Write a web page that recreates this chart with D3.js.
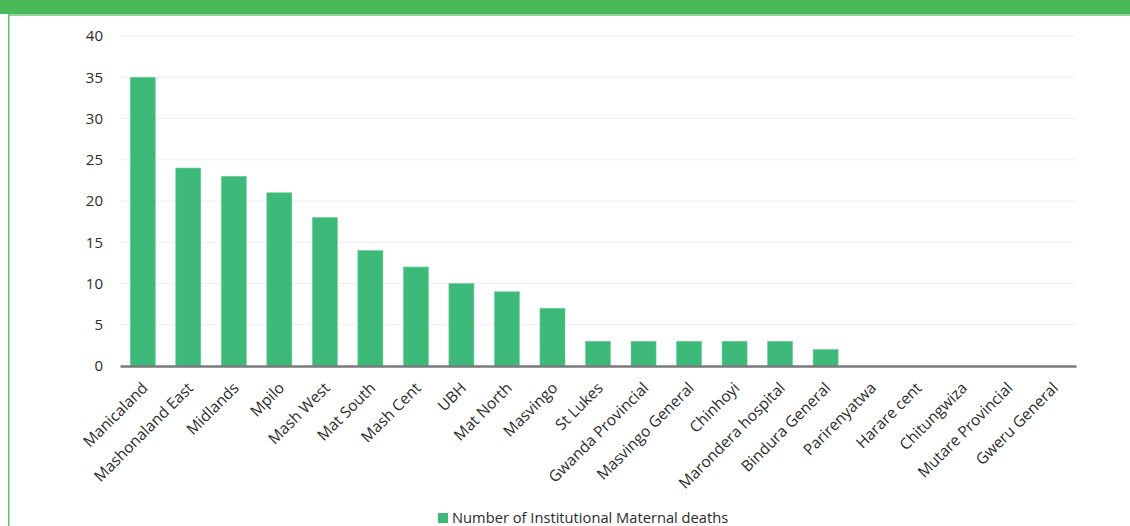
<!DOCTYPE html>
<html>
<head>
<meta charset="utf-8">
<script src="https://cdn.jsdelivr.net/npm/d3@7"></script>
<style>
  body { margin: 0; background: #fff; }
  svg { display: block; font-family: "Open Sans", "DejaVu Sans", sans-serif; }
</style>
</head>
<body>
<div id="chart"></div>
<script>
// data
var categories = ["Manicaland", "Mashonaland East", "Midlands", "Mpilo", "Mash West", "Mat South",
  "Mash Cent", "UBH", "Mat North", "Masvingo", "St Lukes", "Gwanda Provincial", "Masvingo General",
  "Chinhoyi", "Marondera hospital", "Bindura General", "Parirenyatwa", "Harare cent", "Chitungwiza",
  "Mutare Provincial", "Gweru General"];
var deaths = [35, 24, 23, 21, 18, 14, 12, 10, 9, 7, 3, 3, 3, 3, 3, 2, 0, 0, 0, 0, 0];
var yTicks = [0, 5, 10, 15, 20, 25, 30, 35, 40];
var seriesName = "Number of Institutional Maternal deaths";

var W = 1130, H = 526;
var margin = {top: 36, right: 54, bottom: 160, left: 120};
var width = W - margin.left - margin.right,
    height = H - margin.top - margin.bottom;

var svg = d3.select("#chart").append("svg")
    .attr("width", W)
    .attr("height", H);

// frame: green banner on top and green rule on the left
svg.append("rect").attr("x", 0).attr("y", 0).attr("width", W).attr("height", 14).attr("fill", "#4ab95a");
svg.append("rect").attr("x", 8).attr("y", 14).attr("width", W - 8).attr("height", 2).attr("fill", "#8fd39a");
svg.append("rect").attr("x", 8).attr("y", 14).attr("width", 1.5).attr("height", H - 14).attr("fill", "#5cc46a");

var g = svg.append("g")
    .attr("transform", "translate(" + margin.left + "," + margin.top + ")");

var x = d3.scaleBand()
    .domain(categories)
    .range([0, width])
    .paddingInner(0.45)
    .paddingOuter(0.225);

var y = d3.scaleLinear()
    .domain([0, 40])
    .range([height, 0]);

// gridlines
g.append("g")
    .selectAll("line")
    .data(yTicks.slice(1))
    .enter().append("line")
    .attr("x1", 0)
    .attr("x2", width)
    .attr("y1", function(d) { return y(d); })
    .attr("y2", function(d) { return y(d); })
    .attr("stroke", "#efefef")
    .attr("stroke-width", 1);

// y axis labels
var yAxis = g.append("g")
    .call(d3.axisLeft(y).tickValues(yTicks).tickSize(0).tickPadding(17));
yAxis.select(".domain").remove();
yAxis.selectAll("text")
    .attr("font-size", 15)
    .attr("font-family", "'Open Sans', sans-serif")
    .attr("fill", "#2b2b2b");

// bars
g.selectAll(".bar")
    .data(deaths)
    .enter().append("rect")
    .attr("class", "bar")
    .attr("x", function(d, i) { return x(categories[i]); })
    .attr("y", function(d) { return y(d); })
    .attr("width", x.bandwidth())
    .attr("height", function(d) { return height - y(d); })
    .attr("fill", "#3dba7a")
    .attr("stroke", "#6fcf9c")
    .attr("stroke-width", 0.6);

// x axis
var xAxis = g.append("g")
    .attr("transform", "translate(0," + height + ")")
    .call(d3.axisBottom(x).tickSize(0).tickPadding(0));
xAxis.select(".domain")
    .attr("stroke", "#7a7a7c")
    .attr("stroke-width", 2.5);
xAxis.selectAll("text")
    .attr("font-size", 15.5)
    .attr("font-family", "'Open Sans', sans-serif")
    .attr("fill", "#2b2b2b")
    .attr("text-anchor", "end")
    .attr("dy", 0)
    .attr("y", 0)
    .attr("transform", "translate(6,23) rotate(-45)");

// legend
var legend = svg.append("g")
    .attr("transform", "translate(" + (W / 2 - 127) + "," + (H - 13) + ")");
legend.append("rect")
    .attr("x", 0).attr("y", 0)
    .attr("width", 10).attr("height", 10)
    .attr("fill", "#3dba7a");
legend.append("text")
    .attr("x", 14).attr("y", 10)
    .attr("font-size", 14.7)
    .attr("fill", "#2b2b2b")
    .text(seriesName);
</script>
</body>
</html>
